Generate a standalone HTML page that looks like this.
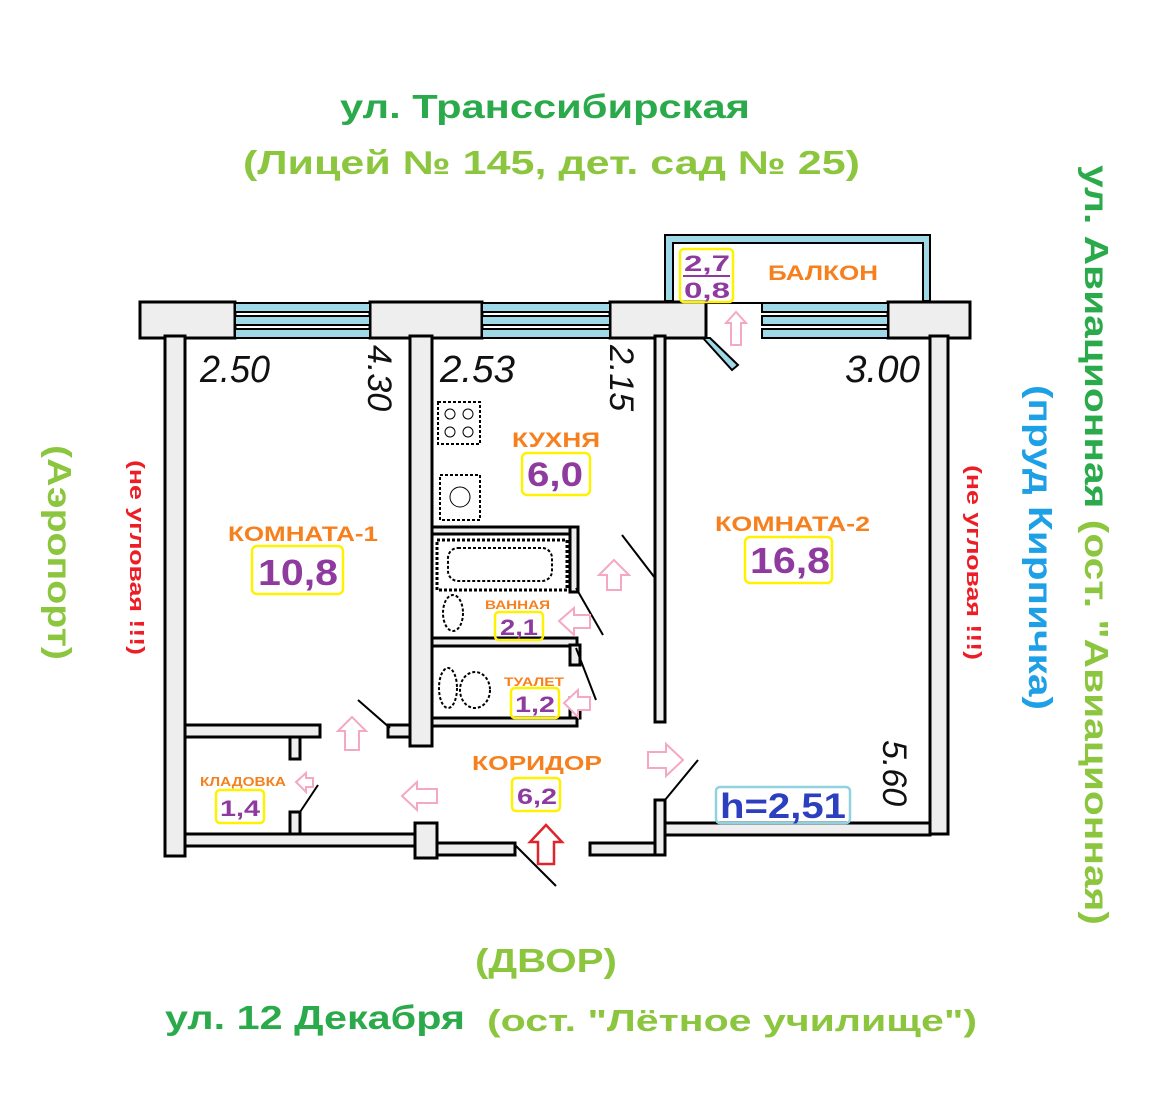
<!DOCTYPE html>
<html><head><meta charset="utf-8"><style>
html,body{margin:0;padding:0;background:#fff;}
svg{display:block;}
text{font-family:"Liberation Sans","DejaVu Sans",sans-serif;font-weight:bold;}
</style></head><body>
<svg width="1170" height="1113" viewBox="0 0 1170 1113" xmlns="http://www.w3.org/2000/svg">
<rect width="1170" height="1113" fill="#fff"/>
<!-- Top texts -->
<text x="340" y="118" font-size="33" fill="#2aaa4a" textLength="410" lengthAdjust="spacingAndGlyphs">ул. Транссибирская</text>
<text x="243" y="174" font-size="33" fill="#8cc63f" textLength="617" lengthAdjust="spacingAndGlyphs">(Лицей № 145,  дет. сад № 25)</text>
<!-- Right vertical -->
<text transform="translate(1085,165) rotate(90)" font-size="33" textLength="760" lengthAdjust="spacingAndGlyphs"><tspan fill="#2aaa4a">ул. Авиационная </tspan><tspan fill="#8cc63f">(ост. "Авиационная)</tspan></text>
<text transform="translate(1029,385) rotate(90)" font-size="33" fill="#1ea0e6" textLength="325" lengthAdjust="spacingAndGlyphs">(пруд Кирпичка)</text>
<text transform="translate(48,445) rotate(90)" font-size="33" fill="#8cc63f" textLength="215" lengthAdjust="spacingAndGlyphs">(Аэропорт)</text>
<text transform="translate(130,460) rotate(90)" font-size="20" fill="#ee1c24" textLength="195" lengthAdjust="spacingAndGlyphs">(не угловая !!!)</text>
<text transform="translate(967,465) rotate(90)" font-size="20" fill="#ee1c24" textLength="195" lengthAdjust="spacingAndGlyphs">(не угловая !!!)</text>
<!-- Bottom -->
<text x="475" y="972" font-size="33" fill="#8cc63f" textLength="142" lengthAdjust="spacingAndGlyphs">(ДВОР)</text>
<text x="165" y="1029" font-size="33" fill="#2aaa4a" textLength="300" lengthAdjust="spacingAndGlyphs">ул. 12 Декабря</text>
<text x="487" y="1031" font-size="31" fill="#8cc63f" textLength="490" lengthAdjust="spacingAndGlyphs">(ост. "Лётное училище")</text>

<g stroke="#000" fill="none">
<rect x="665" y="235" width="265" height="66" fill="#9fd8e6" stroke="#000" stroke-width="2"/>
<rect x="673" y="243" width="250" height="60" fill="#fff" stroke="#000" stroke-width="2"/>
<rect x="140" y="302" width="95" height="36" fill="#eee" stroke-width="3"/>
<rect x="370" y="302" width="112" height="36" fill="#eee" stroke-width="3"/>
<rect x="610" y="302" width="96" height="36" fill="#eee" stroke-width="3"/>
<rect x="888" y="302" width="82" height="36" fill="#eee" stroke-width="3"/>
<g fill="#9fd8e6" stroke-width="2">
<rect x="235" y="303" width="135" height="9"/><rect x="235" y="316" width="135" height="9"/><rect x="235" y="329" width="135" height="9"/>
<rect x="482" y="303" width="128" height="9"/><rect x="482" y="316" width="128" height="9"/><rect x="482" y="329" width="128" height="9"/>
<rect x="762" y="303" width="126" height="9"/><rect x="762" y="316" width="126" height="9"/><rect x="762" y="329" width="126" height="9"/>
</g>
<polygon points="703,338 710,338 738,365 732,370" fill="#9fd8e6" stroke-width="2"/>
<g fill="#eee" stroke-width="3">
<rect x="165" y="336" width="20" height="520"/>
<rect x="410" y="336" width="22" height="410"/>
<rect x="655" y="336" width="10" height="386"/>
<rect x="930" y="336" width="18" height="498"/>
<rect x="185" y="725" width="135" height="12"/>
<rect x="290" y="737" width="10" height="22"/>
<rect x="388" y="725" width="22" height="12"/>
<rect x="290" y="812" width="10" height="22"/>
<rect x="185" y="834" width="230" height="12"/>
<rect x="415" y="823" width="22" height="35"/>
<rect x="437" y="843" width="78" height="12"/>
<rect x="590" y="843" width="65" height="12"/>
<rect x="655" y="800" width="10" height="55"/>
<rect x="665" y="823" width="265" height="12"/>
<rect x="432" y="527" width="145" height="7"/>
<rect x="570" y="527" width="8" height="65"/>
<rect x="432" y="638" width="145" height="8"/>
<rect x="570" y="645" width="10" height="20"/>
<rect x="432" y="718" width="145" height="8"/>
<rect x="570" y="698" width="10" height="20"/>
</g>
<rect x="438" y="402" width="42" height="42" stroke-width="2" stroke-dasharray="3 2"/>
<circle cx="450" cy="414" r="5"/><circle cx="468" cy="414" r="5"/><circle cx="450" cy="432" r="5"/><circle cx="468" cy="432" r="5"/>
<rect x="440" y="475" width="40" height="45" stroke-width="2" stroke-dasharray="3 2"/>
<circle cx="460" cy="497" r="10"/>
<rect x="437" y="540" width="130" height="50" stroke-width="3" stroke-dasharray="3 2"/>
<rect x="448" y="548" width="104" height="33" rx="10" stroke-width="2" stroke-dasharray="3 2"/>
<ellipse cx="453" cy="613" rx="10" ry="18" stroke-dasharray="3 2" stroke-width="2"/>
<ellipse cx="448" cy="688" rx="9" ry="20" stroke-dasharray="3 2" stroke-width="2"/>
<ellipse cx="475" cy="690" rx="15" ry="18" stroke-dasharray="3 2" stroke-width="2"/>
<g stroke-width="2">
<line x1="622" y1="535" x2="655" y2="578"/>
<line x1="576" y1="588" x2="603" y2="635"/>
<line x1="576" y1="648" x2="596" y2="700"/>
<line x1="358" y1="700" x2="390" y2="728"/>
<line x1="300" y1="812" x2="318" y2="785"/>
<line x1="515" y1="845" x2="556" y2="886"/>
<line x1="665" y1="800" x2="698" y2="760"/>
</g>
</g>
<g font-family="Liberation Serif,serif" font-style="italic" fill="#111">
<text x="200" y="382" font-size="38" style="font-weight:normal" textLength="70" lengthAdjust="spacingAndGlyphs">2.50</text>
<text x="440" y="382" font-size="38" style="font-weight:normal" textLength="75" lengthAdjust="spacingAndGlyphs">2.53</text>
<text x="845" y="382" font-size="38" style="font-weight:normal" textLength="75" lengthAdjust="spacingAndGlyphs">3.00</text>
<text transform="translate(368,345) rotate(90)" font-size="34" style="font-weight:normal">4.30</text>
<text transform="translate(610,345) rotate(90)" font-size="34" style="font-weight:normal">2.15</text>
<text transform="translate(883,740) rotate(90)" font-size="34" style="font-weight:normal">5.60</text>
</g>
<g fill="#f7801e">
<text x="768" y="280" font-size="21" textLength="110" lengthAdjust="spacingAndGlyphs">БАЛКОН</text>
<text x="512" y="447" font-size="21" textLength="88" lengthAdjust="spacingAndGlyphs">КУХНЯ</text>
<text x="228" y="541" font-size="21" textLength="150" lengthAdjust="spacingAndGlyphs">КОМНАТА-1</text>
<text x="715" y="531" font-size="21" textLength="155" lengthAdjust="spacingAndGlyphs">КОМНАТА-2</text>
<text x="485" y="609" font-size="12" textLength="65" lengthAdjust="spacingAndGlyphs">ВАННАЯ</text>
<text x="504" y="686" font-size="12" textLength="60" lengthAdjust="spacingAndGlyphs">ТУАЛЕТ</text>
<text x="472" y="770" font-size="20" textLength="130" lengthAdjust="spacingAndGlyphs">КОРИДОР</text>
<text x="200" y="786" font-size="13" textLength="86" lengthAdjust="spacingAndGlyphs">КЛАДОВКА</text>
</g>
<g fill="none" stroke="#fff200" stroke-width="2.5">
<rect x="680" y="249" width="53" height="53" rx="4"/>
<rect x="522" y="453" width="68" height="42" rx="5"/>
<rect x="252" y="546" width="91" height="48" rx="5"/>
<rect x="745" y="537" width="87" height="46" rx="5"/>
<rect x="495" y="612" width="48" height="28" rx="4"/>
<rect x="511" y="688" width="48" height="30" rx="4"/>
<rect x="512" y="778" width="48" height="33" rx="4"/>
<rect x="216" y="790" width="48" height="33" rx="4"/>
</g>
<rect x="716" y="787" width="134" height="36" rx="4" fill="none" stroke="#8fd3e0" stroke-width="2.5"/>
<g fill="#8e3a9f">
<text x="684" y="271" font-size="22" textLength="46" lengthAdjust="spacingAndGlyphs">2,7</text>
<line x1="683" y1="276" x2="730" y2="276" stroke="#8e3a9f" stroke-width="2"/>
<text x="684" y="298" font-size="22" textLength="46" lengthAdjust="spacingAndGlyphs">0,8</text>
<text x="527" y="486" font-size="34" textLength="56" lengthAdjust="spacingAndGlyphs">6,0</text>
<text x="258" y="585" font-size="36" textLength="80" lengthAdjust="spacingAndGlyphs">10,8</text>
<text x="750" y="573" font-size="36" textLength="80" lengthAdjust="spacingAndGlyphs">16,8</text>
<text x="500" y="635" font-size="22" textLength="38" lengthAdjust="spacingAndGlyphs">2,1</text>
<text x="515" y="712" font-size="22" textLength="40" lengthAdjust="spacingAndGlyphs">1,2</text>
<text x="517" y="804" font-size="22" textLength="40" lengthAdjust="spacingAndGlyphs">6,2</text>
<text x="220" y="816" font-size="22" textLength="40" lengthAdjust="spacingAndGlyphs">1,4</text>
</g>
<text x="720" y="818" font-size="35" fill="#2b3fbf" textLength="126" lengthAdjust="spacingAndGlyphs">h=2,51</text>
<g fill="#fff" stroke="#f4a8c4" stroke-width="2">
<polygon points="736,312 726,323 731,323 731,345 741,345 741,323 746,323"/>
<polygon points="614,560 599,575 607,575 607,590 621,590 621,575 629,575"/>
<polygon points="352,717 338,731 345,731 345,750 359,750 359,731 366,731"/>
<polygon points="559,621 574,608 574,615 590,615 590,628 574,628 574,635"/>
<polygon points="564,703 578,690 578,697 590,697 590,710 578,710 578,717"/>
<polygon points="402,796 417,782 417,789 437,789 437,803 417,803 417,810"/>
<polygon points="296,782 306,773 306,778 313,778 313,787 306,787 306,792"/>
<polygon points="683,760 666,744 666,752 648,752 648,768 666,768 666,776"/>
</g>
<polygon points="546,825 530,842 538,842 538,864 554,864 554,842 562,842" fill="#fff" stroke="#e0242c" stroke-width="2.5"/>
</svg>
</body></html>
